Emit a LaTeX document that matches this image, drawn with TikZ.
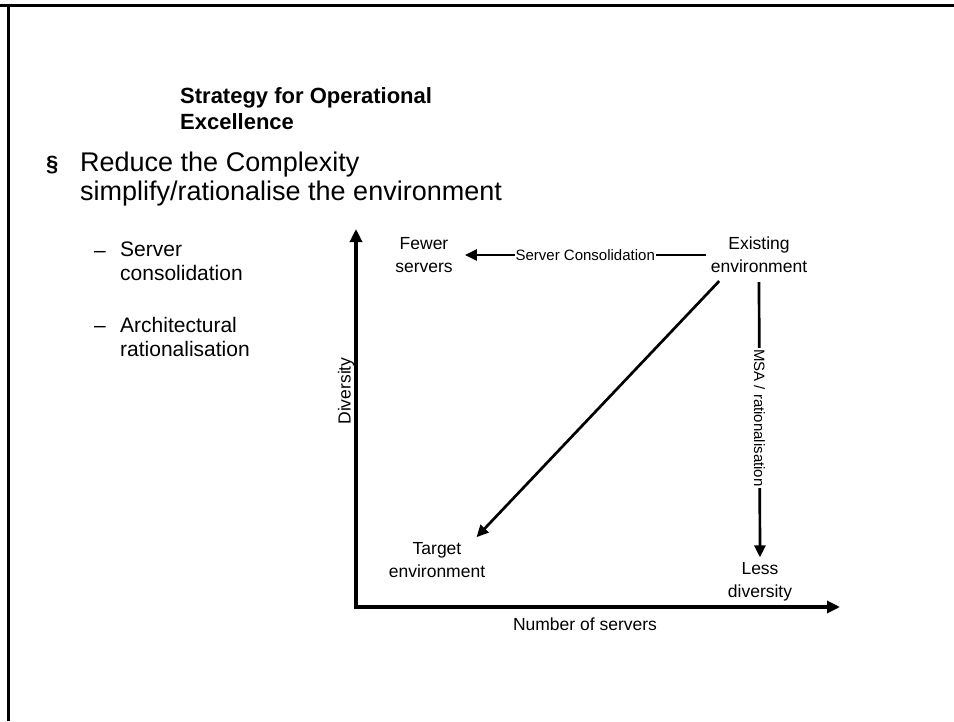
\documentclass[tikz,border=0pt]{standalone}
\usepackage{fontspec}
\setmainfont{Liberation Sans}
\usetikzlibrary{arrows.meta}
\begin{document}
\begin{tikzpicture}[x=1pt,y=-1pt] % plan of the slide, in pixels
\tikzstyle{axis} = [line width=3.2pt, {Triangle[length=13pt,width=12pt]}-{Triangle[length=13pt,width=12pt]}] % the two axes
\tikzstyle{move} = [line width=2.7pt, -{Triangle[length=12pt,width=11pt]}] % arrows between environments
\tikzstyle{state} = [align=center, inner sep=5pt, font=\fontsize{17.5}{23}\selectfont] % labels of environments
\tikzstyle{way} = [midway, fill=white, inner sep=1pt, font=\fontsize{15}{18}\selectfont] % text on the arrows
\tikzstyle{para} = [anchor=north west, align=left, inner sep=0pt] % slide text
\useasboundingbox (0,0) rectangle (954,721);
\draw[line width=3pt] (0,5) -- (954,5); % frame of the slide
\draw[line width=3pt] (8,5) -- (8,721);

\node[para, font=\bfseries\fontsize{22}{26}\selectfont] (title) at (180,87) {Strategy for Operational\\Excellence};
\node[anchor=base west, inner sep=0pt, font=\bfseries\fontsize{22}{26}\selectfont] (bul) at (46,171) {\S};
\node[para, font=\fontsize{27}{29}\selectfont] (reduce) at (80,152) {Reduce the Complexity\\simplify/rationalise the environment};
\node[anchor=base west, inner sep=0pt, font=\fontsize{21}{24}\selectfont] (dash1) at (94,257) {--};
\node[para, font=\fontsize{21}{24}\selectfont] (item1) at (120,242) {Server\\consolidation};
\node[anchor=base west, inner sep=0pt, font=\fontsize{21}{24}\selectfont] (dash2) at (94,332) {--};
\node[para, font=\fontsize{21}{24}\selectfont] (item2) at (120,317) {Architectural\\rationalisation};

% the chart
\coordinate (o) at (356,607);
\coordinate (ytop) at (356,229);
\coordinate (xend) at (840,607);
\draw[axis] (ytop) -- (o) -- (xend);
\node[rotate=90, font=\fontsize{17.5}{20}\selectfont] (div) at (346,391) {Diversity};
\node[font=\fontsize{17.5}{20}\selectfont] (num) at (585,624) {Number of servers};

\node[state, inner xsep=12pt] (fewer) at (424,255) {Fewer\\servers};
\node[state] (exist) at (759,255) {Existing\\environment};
\node[state] (target) at (437,560) {Target\\environment};
\node[state] (less) at (760,582) {Less\\diversity};

\draw[move] (exist.west) -- node[way] {Server Consolidation} (fewer.east);
\draw[move, shorten <=4pt] (exist.-148) -- (target.30);
\draw[move, shorten <=4pt] (exist.south) -- node[way, rotate=-90] {MSA / rationalisation} (less.north);
\end{tikzpicture}
\end{document}
